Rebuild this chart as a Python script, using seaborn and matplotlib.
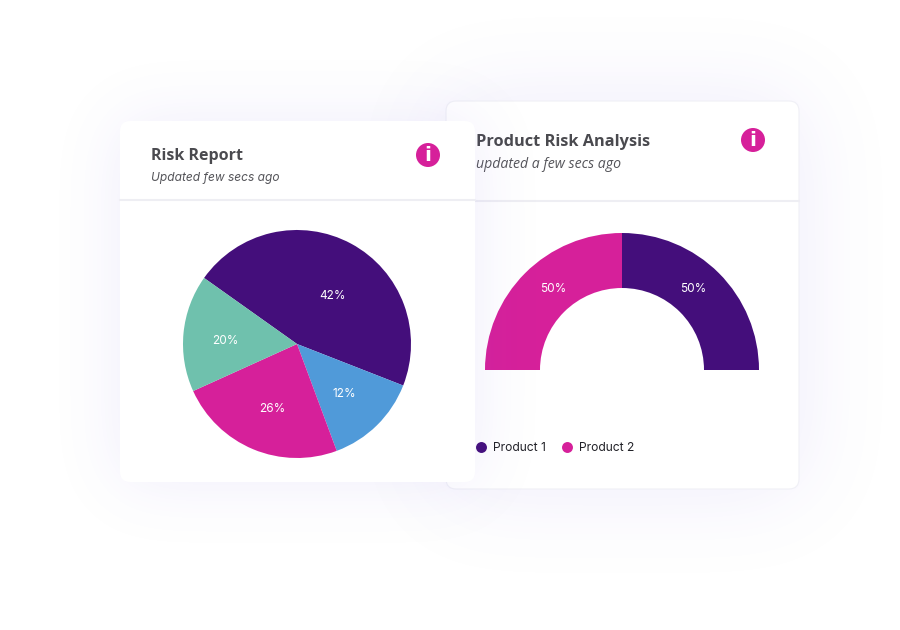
import numpy as np
import matplotlib
matplotlib.use("Agg")
import matplotlib.pyplot as plt
import seaborn as sns
from matplotlib.patches import FancyBboxPatch, Circle

# data
risk_labels = ["42%", "12%", "26%", "20%"]
risk_shares = [46.1, 13.4, 23.9, 16.6]   # drawn slice sizes, they don't follow the printed labels
risk_colors = ["#440e7b", "#509ad9", "#d6209a", "#6fc1ad"]
product_names = ["Product 1", "Product 2"]
product_values = [50, 50]
product_labels = ["50%", "50%"]
product_colors = ["#440e7b", "#d6209a"]

W, H = 900, 630
sns.set_theme(style="white")
plt.rcParams["font.family"] = ["Inter", "DejaVu Sans"]


def Y(y):
    return H - y


def shadow(x0, y0, x1, y1, sigma, strength):
    # blurred rectangle, returned as an rgba image
    mask = np.zeros((H, W))
    mask[y0:y1, x0:x1] = 1.0
    t = np.arange(-3 * sigma, 3 * sigma + 1)
    k = np.exp(-t ** 2 / (2.0 * sigma ** 2))
    k = k / k.sum()
    mask = np.apply_along_axis(lambda r: np.convolve(r, k, mode="same"), 0, mask)
    mask = np.apply_along_axis(lambda r: np.convolve(r, k, mode="same"), 1, mask)
    img = np.zeros((H, W, 4))
    img[..., 0] = 112 / 255
    img[..., 1] = 92 / 255
    img[..., 2] = 225 / 255
    img[..., 3] = mask * strength
    return img


def card(ax, x0, y0, x1, y1, z, edge="none"):
    box = FancyBboxPatch((x0, Y(y1)), x1 - x0, y1 - y0,
                         boxstyle="round,pad=0,rounding_size=10",
                         fc="white", ec=edge, lw=0.8, zorder=z)
    ax.add_patch(box)


def info_icon(ax, x, y, z):
    ax.add_patch(Circle((x, Y(y)), 12, fc="#d6209a", ec="none", zorder=z))
    ax.text(x, Y(y) - 0.5, "i", color="white", fontsize=14.5, fontweight="bold",
            family="DejaVu Sans", ha="center", va="center", zorder=z + 1)


fig = plt.figure(figsize=(9, 6.3), dpi=100)
ax = fig.add_axes([0, 0, 1, 1])
ax.set_axis_off()
ext = (0, W, 0, H)

# right card
ax.imshow(shadow(446, 101, 799, 489, 46, 0.12), extent=ext, zorder=1, aspect="auto")
card(ax, 446, 101, 799, 489, 2, edge="#f0f0f6")
ax.plot([446, 799], [Y(201), Y(201)], color="#eeeef3", lw=1.5, zorder=3)
ax.text(476, Y(142), "Product Risk Analysis", color="#4a4a4f", fontsize=11.8,
        fontweight="bold", family="Open Sans", va="center", zorder=3)
ax.text(476, Y(164), "updated a few secs ago", color="#55555a", fontsize=10.2,
        style="italic", family="Open Sans", va="center", zorder=3)
info_icon(ax, 753, 140, 3)

wedges, _ = ax.pie(product_values + [sum(product_values)],
                   colors=product_colors[::-1] + ["none"],
                   startangle=180, counterclock=False,
                   center=(622, Y(370)), radius=137, frame=True,
                   wedgeprops={"width": 55, "zorder": 3, "lw": 0})
ax.text(693, Y(288.5), product_labels[0], color="white", fontsize=8.5, ha="center", va="center", zorder=4)
ax.text(553, Y(288.5), product_labels[1], color="white", fontsize=8.5, ha="center", va="center", zorder=4)

for lx, name, col in zip([481, 567], product_names, product_colors):
    ax.scatter([lx], [Y(447)], s=62, color=col, linewidths=0, zorder=4)
    ax.text(lx + 12, Y(448), name, color="#222228", fontsize=8.7, va="center", zorder=4)

# left card goes on top, its shadow falls on the right card too
ax.imshow(shadow(120, 121, 475, 482, 34, 0.11), extent=ext, zorder=5, aspect="auto")
card(ax, 120, 121, 475, 482, 6)
ax.plot([120, 475], [Y(200), Y(200)], color="#eeeef3", lw=1.5, zorder=7)
ax.text(151, Y(156), "Risk Report", color="#4a4a4f", fontsize=11.5,
        fontweight="bold", family="Open Sans", va="center", zorder=7)
ax.text(151, Y(178), "Updated few secs ago", color="#55555a", fontsize=8.6,
        style="italic", va="center", zorder=7)
info_icon(ax, 428, 155, 7)

ax.pie(risk_shares, colors=risk_colors, startangle=144.6, counterclock=False,
       center=(297, Y(344)), radius=114, frame=True,
       wedgeprops={"zorder": 7, "lw": 0})
for (tx, ty), lab in zip([(332, 296), (344, 394), (272, 408.5), (225, 340.5)], risk_labels):
    ax.text(tx, Y(ty), lab, color="white", fontsize=8.5, ha="center", va="center", zorder=8)

ax.set_xlim(0, W)
ax.set_ylim(0, H)
ax.set_aspect("auto")
ax.set_axis_off()
fig.savefig("out.png", dpi=100, facecolor="white")
